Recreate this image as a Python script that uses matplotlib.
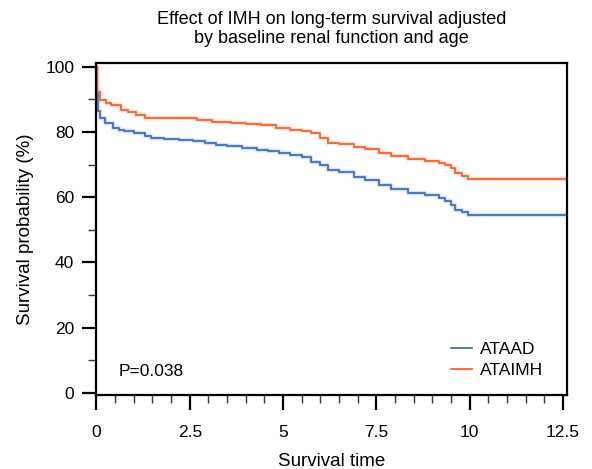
import numpy as np
import matplotlib.pyplot as plt

plt.rcParams['font.family'] = ['Liberation Sans', 'DejaVu Sans']

# survival curves (time in years, survival in %)
ataad_t = [0, 0.02, 0.05, 0.1, 0.24, 0.45, 0.6, 0.75, 1.0, 1.3, 1.45, 1.8, 2.2,
           2.6, 2.9, 3.2, 3.5, 3.9, 4.3, 4.6, 4.9, 5.2, 5.5, 5.76, 6.0, 6.2,
           6.5, 6.9, 7.2, 7.56, 7.9, 8.36, 8.8, 9.17, 9.35, 9.5, 9.6, 9.8,
           9.97, 12.6]
ataad_s = [100, 92.3, 86.3, 84.3, 82.8, 81.3, 80.6, 80.2, 79.8, 78.8, 78.2,
           78.0, 77.6, 77.2, 76.7, 76.1, 75.6, 75.1, 74.6, 74.1, 73.6, 72.9,
           72.2, 70.9, 69.9, 68.4, 67.6, 66.2, 65.3, 63.8, 62.6, 61.3, 60.7,
           59.8, 58.8, 57.7, 56.1, 55.4, 54.6, 54.6]

ataimh_t = [0, 0.02, 0.1, 0.25, 0.4, 0.67, 0.85, 1.05, 1.3, 1.8, 2.2, 2.7,
            3.1, 3.6, 4.0, 4.4, 4.8, 5.2, 5.5, 5.76, 6.0, 6.2, 6.5, 6.9, 7.2,
            7.56, 7.9, 8.36, 8.8, 9.17, 9.35, 9.5, 9.6, 9.8, 9.97, 12.6]
ataimh_s = [100, 92.3, 89.9, 89.0, 88.3, 86.8, 86.0, 85.3, 84.4, 84.3, 84.2,
            83.7, 83.2, 82.8, 82.5, 82.0, 81.3, 80.7, 80.2, 79.7, 78.2, 76.7,
            76.2, 75.5, 74.7, 73.6, 72.7, 71.8, 71.2, 70.6, 69.8, 69.0, 67.5,
            66.6, 65.6, 65.6]

blue = '#3d6fbf'
orange = '#f2652e'

fig = plt.figure(figsize=(5.92, 4.69), dpi=100)
ax = fig.add_axes([0.163, 0.158, 0.794, 0.708])

for t, s, c, name in [(ataad_t, ataad_s, blue, 'ATAAD'),
                      (ataimh_t, ataimh_s, orange, 'ATAIMH')]:
    ax.step(t, s, where='post', color=c, lw=3.2, alpha=0.2)
    ax.step(t, s, where='post', color=c, lw=1.3, label=name)

ax.set_xlim(0, 12.6)
ax.set_ylim(-0.6, 101.2)
ax.set_xticks([0, 2.5, 5, 7.5, 10, 12.5])
ax.set_xticklabels(['0', '2.5', '5', '7.5', '10', '12.5'])
ax.set_xticks(np.arange(0, 12.6, 0.5), minor=True)
ax.set_yticks([0, 20, 40, 60, 80, 100])
ax.set_yticks(np.arange(0, 101, 10), minor=True)

for sp in ax.spines.values():
    sp.set_linewidth(1.6)
ax.tick_params(which='major', length=10, width=1.6, labelsize=12.5, pad=6)
ax.tick_params(axis='x', which='major', length=11, pad=11)
ax.tick_params(which='minor', length=5.5, width=1.0, color='#333333')

ax.set_xlabel('Survival time', fontsize=13.5, labelpad=9)
ax.set_ylabel('Survival probability (%)', fontsize=13.5, labelpad=8)
ax.set_title('Effect of IMH on long-term survival adjusted\nby baseline renal function and age',
             fontsize=13, pad=14)

ax.text(0.59, 5.2, 'P=0.038', fontsize=12.5)
ax.legend(loc='lower right', frameon=False, fontsize=12.5, handlelength=1.2,
          handletextpad=0.45, labelspacing=0.33, borderaxespad=0,
          bbox_to_anchor=(0.965, 0.03))

fig.savefig('out.png', dpi=100)
